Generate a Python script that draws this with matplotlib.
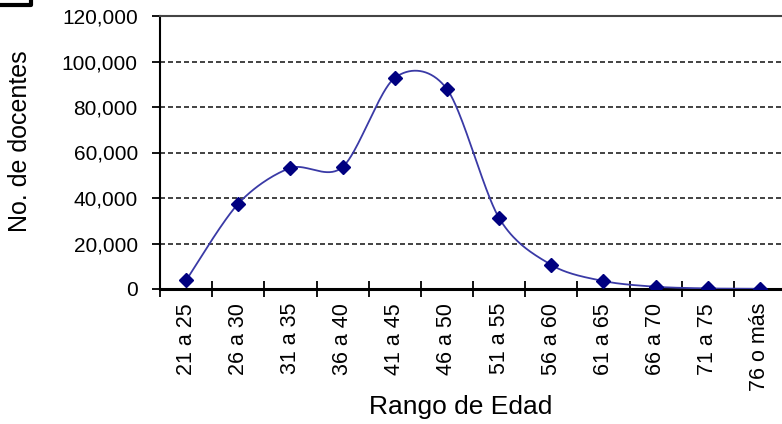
import matplotlib.pyplot as plt
from matplotlib.lines import Line2D
import numpy as np

plt.rcParams['font.family'] = ['Liberation Sans', 'DejaVu Sans']

# datos
rangos = ['21 a 25', '26 a 30', '31 a 35', '36 a 40', '41 a 45', '46 a 50',
          '51 a 55', '56 a 60', '61 a 65', '66 a 70', '71 a 75', '76 o más']
docentes = [3800, 37500, 53200, 53600, 92800, 87900,
            31200, 10600, 3500, 1000, 250, 100]
y_ticks = [0, 20000, 40000, 60000, 80000, 100000, 120000]


def suavizar(x, y, n=40, k=0.15):
    # curva tipo Excel (Bezier con puntos de control Catmull-Rom)
    p = np.column_stack([x, y]).astype(float)
    p = np.vstack([p[0], p, p[-1]])
    t = np.linspace(0, 1, n)[:, None]
    out = []
    for i in range(1, len(p) - 2):
        p0, p3 = p[i], p[i + 1]
        c1 = p0 + (p[i + 1] - p[i - 1]) * k
        c2 = p3 - (p[i + 2] - p[i]) * k
        seg = ((1 - t) ** 3) * p0 + 3 * ((1 - t) ** 2) * t * c1 \
            + 3 * (1 - t) * t ** 2 * c2 + t ** 3 * p3
        out.append(seg)
    out = np.vstack(out)
    return out[:, 0], out[:, 1]


fig = plt.figure(figsize=(7.82, 4.24), dpi=100)
W, H = 782, 424
ax = fig.add_axes([160 / W, (H - 289) / H, 626 / W, 273 / H])

x = np.arange(len(rangos))
xs, ys = suavizar(x, docentes)
ax.plot(xs, ys, color='#3a3aa6', lw=1.3, zorder=3)
ax.plot(x, docentes, ls='none', marker='D', ms=7.5, color='#000080', zorder=4)

ax.set_xlim(-0.5, len(rangos) - 0.5)
ax.set_ylim(0, 120000)
ax.set_yticks(y_ticks)
ax.set_yticklabels([f'{v:,}' for v in y_ticks], fontsize=15)
for v in y_ticks[1:-1]:
    ax.axhline(v, color='#222222', lw=1.2, ls=(0, (3, 1.8)), zorder=1)

ax.set_xticks(x)
ax.set_xticklabels(rangos, rotation=90, fontsize=15.5)
ax.set_xticks(np.arange(len(rangos)) - 0.5, minor=True)
ax.tick_params(axis='x', which='major', length=0, pad=10)
ax.tick_params(axis='x', which='minor', direction='inout', length=12, width=1.3)
ax.tick_params(axis='y', direction='out', length=6, width=1.3, pad=10)

ax.spines['right'].set_visible(False)
ax.spines['top'].set_color('#444444')
ax.spines['top'].set_linewidth(1.5)
ax.spines['left'].set_linewidth(1.5)
ax.spines['bottom'].set_linewidth(2.2)

ax.set_ylabel('No. de docentes', fontsize=18)
ax.yaxis.set_label_coords(-0.2125, 0.54)
ax.yaxis.label.set_verticalalignment('baseline')
ax.set_xlabel('Rango de Edad', fontsize=19)
ax.xaxis.set_label_coords(0.481, -0.458)
ax.xaxis.label.set_verticalalignment('baseline')

# esquina de un marco en la parte superior izquierda
fig.add_artist(Line2D([0, 31 / W, 31 / W], [1 - 5 / H, 1 - 5 / H, 1],
                      transform=fig.transFigure, color='black', lw=3))

fig.savefig('out.png', dpi=100)
